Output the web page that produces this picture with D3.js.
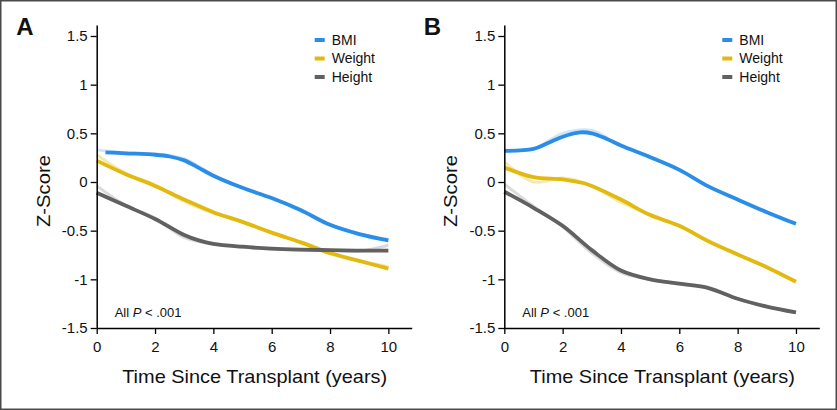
<!DOCTYPE html>
<html>
<head>
<meta charset="utf-8">
<script src="https://cdn.jsdelivr.net/npm/d3@7"></script>
<style>
  html, body { margin: 0; padding: 0; background: #fff; }
  svg { display: block; }
  text { font-family: "Liberation Sans", Arial, Helvetica, sans-serif; fill: #111; }
</style>
</head>
<body>
<svg id="chart" width="837" height="410"></svg>
<script>
// ---------- DATA ----------
const seriesNames = ["BMI", "Weight", "Height"];
const panelLabels = ["A", "B"];
const xTicks = [0, 2, 4, 6, 8, 10];
const yTicks = [-1.5, -1, -0.5, 0, 0.5, 1, 1.5];
const yTickLabels = ["-1.5", "-1", "-0.5", "0", "0.5", "1", "1.5"];
const pText = "All P < .001";

// Panel A smoothed curves
const aBmiT    = [0.3, 1, 2, 2.5, 3, 3.5, 4, 5, 6, 7, 8, 9, 10];
const aBmiZ    = [0.305, 0.295, 0.28, 0.262, 0.222, 0.145, 0.065, -0.06, -0.165, -0.29, -0.44, -0.535, -0.60];
const aWeightT = [0, 1, 2, 3, 4, 5, 6, 7, 8, 9, 10];
const aWeightZ = [0.22, 0.08, -0.04, -0.18, -0.31, -0.41, -0.52, -0.62, -0.73, -0.81, -0.89];
const aHeightT = [0, 1, 2, 3, 3.5, 4, 5, 6, 7, 8, 9, 10];
const aHeightZ = [-0.11, -0.245, -0.38, -0.545, -0.60, -0.635, -0.665, -0.685, -0.695, -0.70, -0.705, -0.705];

// Panel B smoothed curves
const bBmiT    = [0, 1, 1.5, 2, 2.6, 3, 3.5, 4, 5, 6, 7, 8, 9, 10];
const bBmiZ    = [0.32, 0.34, 0.40, 0.465, 0.51, 0.50, 0.445, 0.375, 0.255, 0.125, -0.045, -0.18, -0.31, -0.43];
const bWeightT = [0, 1, 2, 2.7, 3, 4, 5, 6, 7, 8, 9, 10];
const bWeightZ = [0.15, 0.05, 0.028, -0.01, -0.04, -0.18, -0.34, -0.45, -0.61, -0.745, -0.875, -1.025];
const bHeightT = [0, 1, 2, 3, 4, 5, 6, 7, 8, 9, 10];
const bHeightZ = [-0.10, -0.265, -0.45, -0.70, -0.91, -1.0, -1.045, -1.09, -1.20, -1.28, -1.34];

// Faint raw (unsmoothed) traces
const rawT       = [0, 1, 2, 3, 4, 5, 6, 7, 8, 9, 10];
const aBmiRaw    = [0.33, 0.30, 0.29, 0.24, 0.07, -0.06, -0.17, -0.28, -0.44, -0.53, -0.59];
const aWeightRaw = [0.28, 0.09, -0.03, -0.20, -0.32, -0.41, -0.52, -0.62, -0.74, -0.81, -0.87];
const aHeightRaw = [-0.04, -0.24, -0.37, -0.57, -0.64, -0.67, -0.69, -0.70, -0.70, -0.71, -0.65];
const bBmiRaw    = [0.33, 0.34, 0.50, 0.53, 0.37, 0.26, 0.13, -0.05, -0.18, -0.31, -0.43];
const bWeightRaw = [0.21, 0.00, 0.04, -0.04, -0.21, -0.33, -0.45, -0.60, -0.74, -0.88, -1.02];
const bHeightRaw = [-0.02, -0.25, -0.46, -0.73, -0.93, -1.00, -1.05, -1.08, -1.20, -1.28, -1.34];

// ---------- STYLE ----------
const colors = { BMI: "#2a8de8", Weight: "#e2b90f", Height: "#616161" };
const light  = { BMI: "#c4e0f7", Weight: "#f3e39c", Height: "#d2d2d2" };

const zip = (t, z) => t.map((v, i) => ({ t: v, z: z[i] }));
const panels = [
  { label: panelLabels[0], x0: 96.7,
    smooth: { BMI: zip(aBmiT, aBmiZ), Weight: zip(aWeightT, aWeightZ), Height: zip(aHeightT, aHeightZ) },
    raw:    { BMI: zip(rawT, aBmiRaw), Weight: zip(rawT, aWeightRaw), Height: zip(rawT, aHeightRaw) } },
  { label: panelLabels[1], x0: 504.3,
    smooth: { BMI: zip(bBmiT, bBmiZ), Weight: zip(bWeightT, bWeightZ), Height: zip(bHeightT, bHeightZ) },
    raw:    { BMI: zip(rawT, bBmiRaw), Weight: zip(rawT, bWeightRaw), Height: zip(rawT, bHeightRaw) } }
];

const svg = d3.select("#chart");
svg.append("rect").attr("x", 0.75).attr("y", 0.75).attr("width", 835.5).attr("height", 408.5)
  .attr("fill", "#fff").attr("stroke", "#4a4a4a").attr("stroke-width", 1.5);

const y = d3.scaleLinear().domain([-1.5, 1.613]).range([328, 25]);

panels.forEach(p => {
  const g = svg.append("g");
  const x = d3.scaleLinear().domain([0, 10.8]).range([p.x0, p.x0 + 315]);

  // raw faint lines
  const lineRaw = d3.line().x(d => x(d.t)).y(d => y(d.z)).curve(d3.curveCatmullRom.alpha(0.5));
  seriesNames.forEach(s => {
    g.append("path").datum(p.raw[s]).attr("d", lineRaw)
      .attr("fill", "none").attr("stroke", light[s]).attr("stroke-width", 3)
      .attr("stroke-linejoin", "round").attr("opacity", 0.8);
  });
  // smooth lines
  const line = d3.line().x(d => x(d.t)).y(d => y(d.z)).curve(d3.curveCatmullRom.alpha(0.5));
  seriesNames.forEach(s => {
    g.append("path").datum(p.smooth[s]).attr("d", line)
      .attr("fill", "none").attr("stroke", colors[s]).attr("stroke-width", 3.8)
      .attr("stroke-linejoin", "round");
  });

  // axes
  const yAxis = d3.axisLeft(y).tickValues(yTicks)
    .tickFormat((d, i) => yTickLabels[i]).tickSize(6).tickSizeOuter(0).tickPadding(3);
  const ya = g.append("g").attr("transform", `translate(${p.x0},0)`).call(yAxis);
  const xAxis = d3.axisBottom(x).tickValues(xTicks).tickSize(6).tickSizeOuter(0).tickPadding(4);
  const xa = g.append("g").attr("transform", `translate(0,${y(-1.5)})`).call(xAxis);
  [ya, xa].forEach(a => {
    a.select(".domain").attr("stroke", "#000").attr("stroke-width", 1.5);
    a.selectAll(".tick line").attr("stroke", "#000").attr("stroke-width", 1.3);
    a.selectAll(".tick text").attr("font-size", 15).attr("fill", "#111")
      .attr("font-family", "'Liberation Sans', Arial, sans-serif");
  });
  xa.selectAll(".tick text").attr("dy", "0.9em");

  // axis titles
  g.append("text").attr("x", p.x0 + 158).attr("y", 383).attr("text-anchor", "middle")
    .attr("font-size", 19).attr("textLength", 265).attr("lengthAdjust", "spacingAndGlyphs")
    .text("Time Since Transplant (years)");
  g.append("text").attr("transform", `translate(${p.x0 - 47},191) rotate(-90)`)
    .attr("text-anchor", "middle").attr("font-size", 19)
    .attr("textLength", 72).attr("lengthAdjust", "spacingAndGlyphs").text("Z-Score");

  // panel label
  g.append("text").attr("x", p.x0 - 80.5).attr("y", 35).attr("font-size", 24)
    .attr("font-weight", "bold").text(p.label);

  // legend
  seriesNames.forEach((s, i) => {
    const ly = 40 + i * 18.5;
    g.append("rect").attr("x", p.x0 + 218).attr("y", ly - 2).attr("width", 10).attr("height", 4)
      .attr("fill", colors[s]);
    g.append("text").attr("x", p.x0 + 235).attr("y", ly).attr("dy", "0.35em")
      .attr("font-size", 14).text(s);
  });

  // p-value note
  const parts = pText.split("P");
  const t = g.append("text").attr("x", p.x0 + 18).attr("y", 317).attr("font-size", 13);
  t.append("tspan").text(parts[0]);
  t.append("tspan").attr("font-style", "italic").text("P");
  t.append("tspan").text(parts[1]);
});
</script>
</body>
</html>
